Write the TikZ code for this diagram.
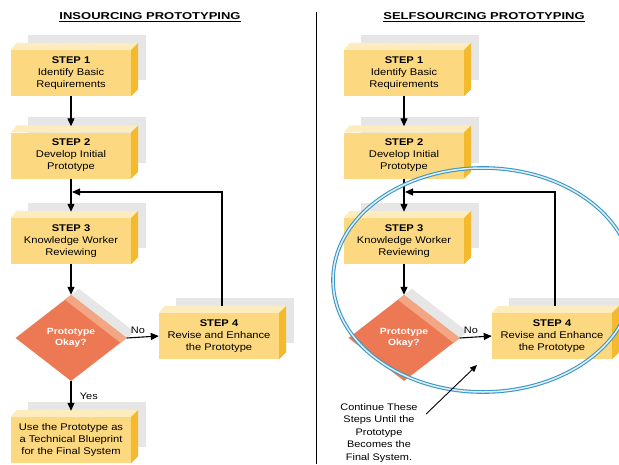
\documentclass[tikz,border=0pt]{standalone}
\usepackage{fontspec}
\setmainfont{Liberation Sans}[FakeStretch=1.15]
\newfontfamily\headfont{Liberation Sans}[FakeStretch=1.3]
\usetikzlibrary{calc}
\usetikzlibrary{positioning}
\usetikzlibrary{shapes.geometric}
\usetikzlibrary{arrows.meta}
\usetikzlibrary{backgrounds}
\definecolor{boxfront}{RGB}{252,216,128}
\definecolor{boxtop}{RGB}{253,236,190}
\definecolor{boxside}{RGB}{242,186,44}
\definecolor{diafront}{RGB}{236,121,84}
\definecolor{diatop}{RGB}{243,166,132}
\definecolor{shadowgray}{RGB}{230,230,230}
\definecolor{ringblue}{RGB}{58,152,200}
\tikzstyle{stepnode} = [fill=boxfront, minimum width=120pt, minimum height=46pt, inner sep=0pt, align=center, font=\fontsize{9.7}{12}\selectfont]
\tikzstyle{decnode} = [diamond, fill=diafront, minimum width=111pt, minimum height=86pt, inner sep=0pt, align=center, text=white, font=\bfseries\fontsize{9}{11}\selectfont]
\tikzstyle{headnode} = [font=\headfont\bfseries\fontsize{10}{12}\selectfont]
\tikzstyle{lbl} = [font=\fontsize{9.5}{12.5}\selectfont, align=center]
\tikzstyle{arr} = [-{Triangle[length=8pt,width=7pt]}, line width=1.1pt]
\tikzstyle{notearr} = [-{Triangle[length=7pt,width=6pt]}, line width=0.9pt]
\tikzstyle{ring} = [draw=ringblue, line width=1.1pt, double=ringblue!15, double distance=1.5pt]

\begin{document}
\begin{tikzpicture}[x=1pt, y=-1pt]
    \useasboundingbox (0,0) rectangle (619,464);
    % titles
    \node[headnode] (insTitle) at (150,17) {\underline{INSOURCING PROTOTYPING}};
    \node[headnode] (selTitle) at (484,17) {\underline{SELFSOURCING PROTOTYPING}};
    \draw[line width=1pt] (316,12) -- (316,464);
    % insourcing
    \node[stepnode] (ins1) at (71,73) {\textbf{STEP 1}\\Identify Basic\\Requirements};
    \node[stepnode] (ins2) at (71,155.5) {\textbf{STEP 2}\\Develop Initial\\Prototype};
    \node[stepnode] (ins3) at (71,241) {\textbf{STEP 3}\\Knowledge Worker\\Reviewing};
    \node[decnode] (insdec) at (71,338) {Prototype\\Okay?};
    \node[stepnode] (ins4) at (219,336) {\textbf{STEP 4}\\Revise and Enhance\\the Prototype};
    \node[stepnode] (insend) at (71,440) {Use the Prototype as\\a Technical Blueprint\\for the Final System};
    % selfsourcing
    \node[stepnode] (sel1) at (404,73) {\textbf{STEP 1}\\Identify Basic\\Requirements};
    \node[stepnode] (sel2) at (404,155.5) {\textbf{STEP 2}\\Develop Initial\\Prototype};
    \node[stepnode] (sel3) at (404,241) {\textbf{STEP 3}\\Knowledge Worker\\Reviewing};
    \node[decnode] (seldec) at (404,338) {Prototype\\Okay?};
    \node[stepnode] (sel4) at (552,336) {\textbf{STEP 4}\\Revise and Enhance\\the Prototype};
    % shadows
    \begin{scope}[on background layer]
        \foreach \n in {ins1,ins2,ins3,ins4,insend,sel1,sel2,sel3,sel4}
            \fill[shadowgray] ($(\n.north west)+(17,-15)$) rectangle ($(\n.south east)+(15,-16)$);
        \foreach \n in {insdec,seldec}
            \fill[shadowgray] ($(\n.north)+(8,-6)$) -- ($(\n.east)+(8,-6)$) -- ($(\n.south)+(8,-6)$) -- ($(\n.west)+(8,-6)$) -- cycle;
    \end{scope}
    % box faces
    \foreach \n in {ins1,ins2,ins3,ins4,insend,sel1,sel2,sel3,sel4} {
        \fill[boxtop] (\n.north west) -- ++(6,-7) -- ($(\n.north east)+(7,-7)$) -- (\n.north east) -- cycle;
        \fill[boxside] (\n.north east) -- ++(7,-7) -- ($(\n.south east)+(7,-7)$) -- (\n.south east) -- cycle;
    }
    \foreach \n in {insdec,seldec}
        \fill[diatop] (\n.north) -- (\n.east) -- ($(\n.east)+(-6,5)$) -- ($(\n.north)+(-6,5)$) -- cycle;
    % arrows
    \draw[arr] (ins1.south) -- ($(ins2.north)+(0,-6)$);
    \draw[arr] (ins2.south) -- ($(ins3.north)+(0,-6)$);
    \draw[arr] (ins3.south) -- (insdec.north);
    \draw[arr] (insdec.east) -- node[lbl, above, pos=0.35] {No} (ins4.west);
    \draw[arr] (insdec.south) -- node[lbl, right=5pt, midway] {Yes} ($(insend.north)+(0,-6)$);
    \coordinate (insjoin) at (72,192);
    \draw[arr] ($(ins4.north)+(3,-7)$) |- (insjoin);
    \draw[arr] (sel1.south) -- ($(sel2.north)+(0,-6)$);
    \draw[arr] (sel2.south) -- ($(sel3.north)+(0,-6)$);
    \draw[arr] (sel3.south) -- (seldec.north);
    \draw[arr] (seldec.east) -- node[lbl, above, pos=0.35] {No} (sel4.west);
    \coordinate (seljoin) at (405,192);
    \draw[arr] ($(sel4.north)+(3,-7)$) |- (seljoin);
    % ring and note
    \draw[ring] (483,280) ellipse [x radius=150pt, y radius=112pt];
    \node[lbl] (selnote) at (379,433) {Continue These\\Steps Until the\\Prototype\\Becomes the\\Final System.};
    \coordinate (selnotetip) at (477,365);
    \draw[notearr] ($(selnote.north east)+(5,14)$) -- (selnotetip);
\end{tikzpicture}
\end{document}
